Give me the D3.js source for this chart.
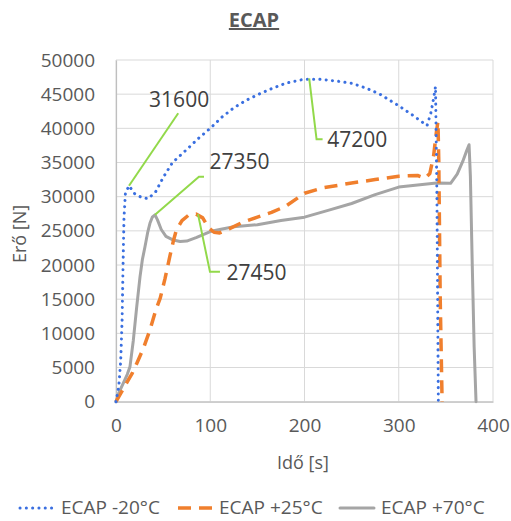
<!DOCTYPE html>
<html>
<head>
<meta charset="utf-8">
<script src="https://cdn.jsdelivr.net/npm/d3@7"></script>
<style>
  body { margin: 0; background: #fff; }
  text { font-family: "Open Sans", "Noto Sans", sans-serif; fill: #595959; }
</style>
</head>
<body>
<svg id="chart" width="511" height="521"></svg>
<script>
// ECAP force vs time

// -20°C (time s, force N)
const coldT = [0, 3, 5, 6.5, 7.5, 8.5, 10, 13.8, 20, 27, 34, 42, 50, 60, 75, 88, 100, 112, 125, 138, 150, 165, 180, 200, 215, 235, 250, 265, 280, 300, 315, 330, 334, 337, 339, 340.5, 341.5, 342];
const coldF = [0, 2300, 6000, 12000, 20000, 27000, 30500, 31600, 30400, 29900, 29700, 30700, 32800, 35000, 36900, 38600, 40000, 41600, 43000, 44100, 44900, 45800, 46600, 47200, 47200, 46900, 46600, 45900, 45000, 43300, 41900, 40400, 42200, 44400, 46100, 30000, 10000, 0];

// +25°C
const midT = [0, 5, 11, 17, 22, 29, 36, 42, 47, 52, 57, 61, 64, 70, 77, 85, 92, 98, 104, 110, 120, 135, 150, 165, 180, 200, 220, 250, 275, 300, 320, 328, 333, 337, 340, 341.6, 342.5, 344, 346];
const midF = [0, 1200, 2700, 4100, 5600, 7800, 10500, 13300, 15200, 18000, 21200, 23600, 25100, 26500, 27300, 27450, 26900, 25500, 24800, 24700, 25300, 26300, 27000, 27700, 28600, 30500, 31300, 32000, 32500, 33000, 33100, 32700, 33400, 36000, 39500, 41000, 35000, 15000, 0];

// +70°C
const hotT = [0, 3, 8, 12, 14.8, 18.4, 22, 25.5, 28, 30.8, 33.5, 36, 38.5, 41.4, 44, 48, 53, 60.8, 68, 75, 85, 100, 110, 125, 150, 175, 200, 225, 250, 275, 300, 320, 340, 355, 362, 368, 372, 374.6, 376, 378, 380, 382];
const hotF = [0, 1300, 2800, 4000, 5100, 9000, 13900, 18300, 20800, 22700, 24700, 26100, 27000, 27350, 26600, 25200, 24200, 23650, 23450, 23500, 24000, 24900, 25200, 25600, 25900, 26500, 27000, 28000, 29000, 30300, 31400, 31700, 32000, 31950, 33300, 35200, 36700, 37600, 33000, 20000, 8000, 0];

const seriesNames = ["ECAP -20°C", "ECAP +25°C", "ECAP +70°C"];

// data labels: anchor point, optional elbow, end of leader, label centre (all t, F)
const noteText = ["31600", "27350", "27450", "47200"];
const noteAt = [[13.8, 31600], [41.4, 27350], [87, 27450], [205, 47300]];
const noteElbow = [null, [88, 32900], [99.7, 19000], [212.8, 38400]];
const noteEnd = [[66, 42200], [93.4, 32900], [110.3, 19000], [219.2, 38400]];
const noteLabel = [[67, 44150], [131, 35100], [149, 18850], [256, 38300]];

const xTicks = [0, 100, 200, 300, 400];
const yTicks = d3.range(0, 50001, 5000);

const svg = d3.select("#chart");

const x = d3.scaleLinear().domain([0, 400]).range([116, 493]);
const y = d3.scaleLinear().domain([0, 50000]).range([401.7, 60]);

// grid
svg.append("g").selectAll("line").data(yTicks).join("line")
    .attr("x1", 116).attr("x2", 493)
    .attr("y1", d => y(d)).attr("y2", d => y(d))
    .attr("stroke", "#d9d9d9").attr("stroke-width", 1);
svg.append("g").selectAll("line").data(xTicks).join("line")
    .attr("y1", 60).attr("y2", 401.7)
    .attr("x1", d => x(d)).attr("x2", d => x(d))
    .attr("stroke", "#d9d9d9").attr("stroke-width", 1);

// axes
const yAxis = svg.append("g").attr("transform", "translate(116,0)")
    .call(d3.axisLeft(y).tickValues(yTicks).tickSize(0).tickPadding(21).tickFormat(d3.format("d")));
const xAxis = svg.append("g").attr("transform", "translate(0,401.7)")
    .call(d3.axisBottom(x).tickValues(xTicks).tickSize(0).tickPadding(17));
[xAxis, yAxis].forEach(a => {
    a.select(".domain").attr("stroke", "#bfbfbf").attr("stroke-width", 1.2);
    a.selectAll("text").style("font-size", "19px").attr("fill", "#595959")
        .style("font-family", "'Open Sans', sans-serif");
});

const line = d3.line().x(d => x(d[0])).y(d => y(d[1]));

const styles = [
    {color: "#3a6fe0", width: 3, dash: "0.1 6.2", cap: "round"},
    {color: "#f07f2d", width: 3.5, dash: "13 8", cap: "butt"},
    {color: "#a5a5a5", width: 3, dash: null, cap: "round"}
];
const series = [d3.zip(coldT, coldF), d3.zip(midT, midF), d3.zip(hotT, hotF)];

// draw gray first so orange and blue sit on top
[2, 1, 0].forEach(i => {
    svg.append("path").datum(series[i])
        .attr("d", line)
        .attr("fill", "none")
        .attr("stroke", styles[i].color)
        .attr("stroke-width", styles[i].width)
        .attr("stroke-dasharray", styles[i].dash)
        .attr("stroke-linecap", styles[i].cap)
        .attr("stroke-linejoin", "round");
});

// annotation leaders + labels
noteText.forEach((t, i) => {
    const pts = [noteAt[i]];
    if (noteElbow[i]) pts.push(noteElbow[i]);
    pts.push(noteEnd[i]);
    svg.append("path").datum(pts)
        .attr("d", line)
        .attr("fill", "none")
        .attr("stroke", "#92d94a")
        .attr("stroke-width", 2);
    svg.append("text")
        .attr("x", x(noteLabel[i][0]))
        .attr("y", y(noteLabel[i][1]))
        .attr("dy", "0.35em")
        .attr("text-anchor", "middle")
        .style("font-size", "21px")
        .style("fill", "#404040")
        .text(t);
});

// title
svg.append("text")
    .attr("x", 254).attr("y", 27)
    .attr("text-anchor", "middle")
    .style("font-size", "20px").style("font-weight", "bold")
    .style("text-decoration", "underline")
    .style("fill", "#595959")
    .text("ECAP");

// axis titles
svg.append("text")
    .attr("transform", "translate(26,234) rotate(-90)")
    .attr("text-anchor", "middle")
    .style("font-size", "18px")
    .text("Erő [N]");
svg.append("text")
    .attr("x", 303).attr("y", 469)
    .attr("text-anchor", "middle")
    .style("font-size", "18px")
    .text("Idő [s]");

// legend
const legendX = [20, 178, 340];
const legend = svg.append("g");
seriesNames.forEach((name, i) => {
    legend.append("line")
        .attr("x1", legendX[i]).attr("x2", legendX[i] + 34)
        .attr("y1", 508).attr("y2", 508)
        .attr("stroke", styles[i].color)
        .attr("stroke-width", styles[i].width)
        .attr("stroke-dasharray", styles[i].dash)
        .attr("stroke-linecap", styles[i].cap);
    legend.append("text")
        .attr("x", legendX[i] + 41).attr("y", 514)
        .style("font-size", "19px")
        .text(name);
});
</script>
</body>
</html>
